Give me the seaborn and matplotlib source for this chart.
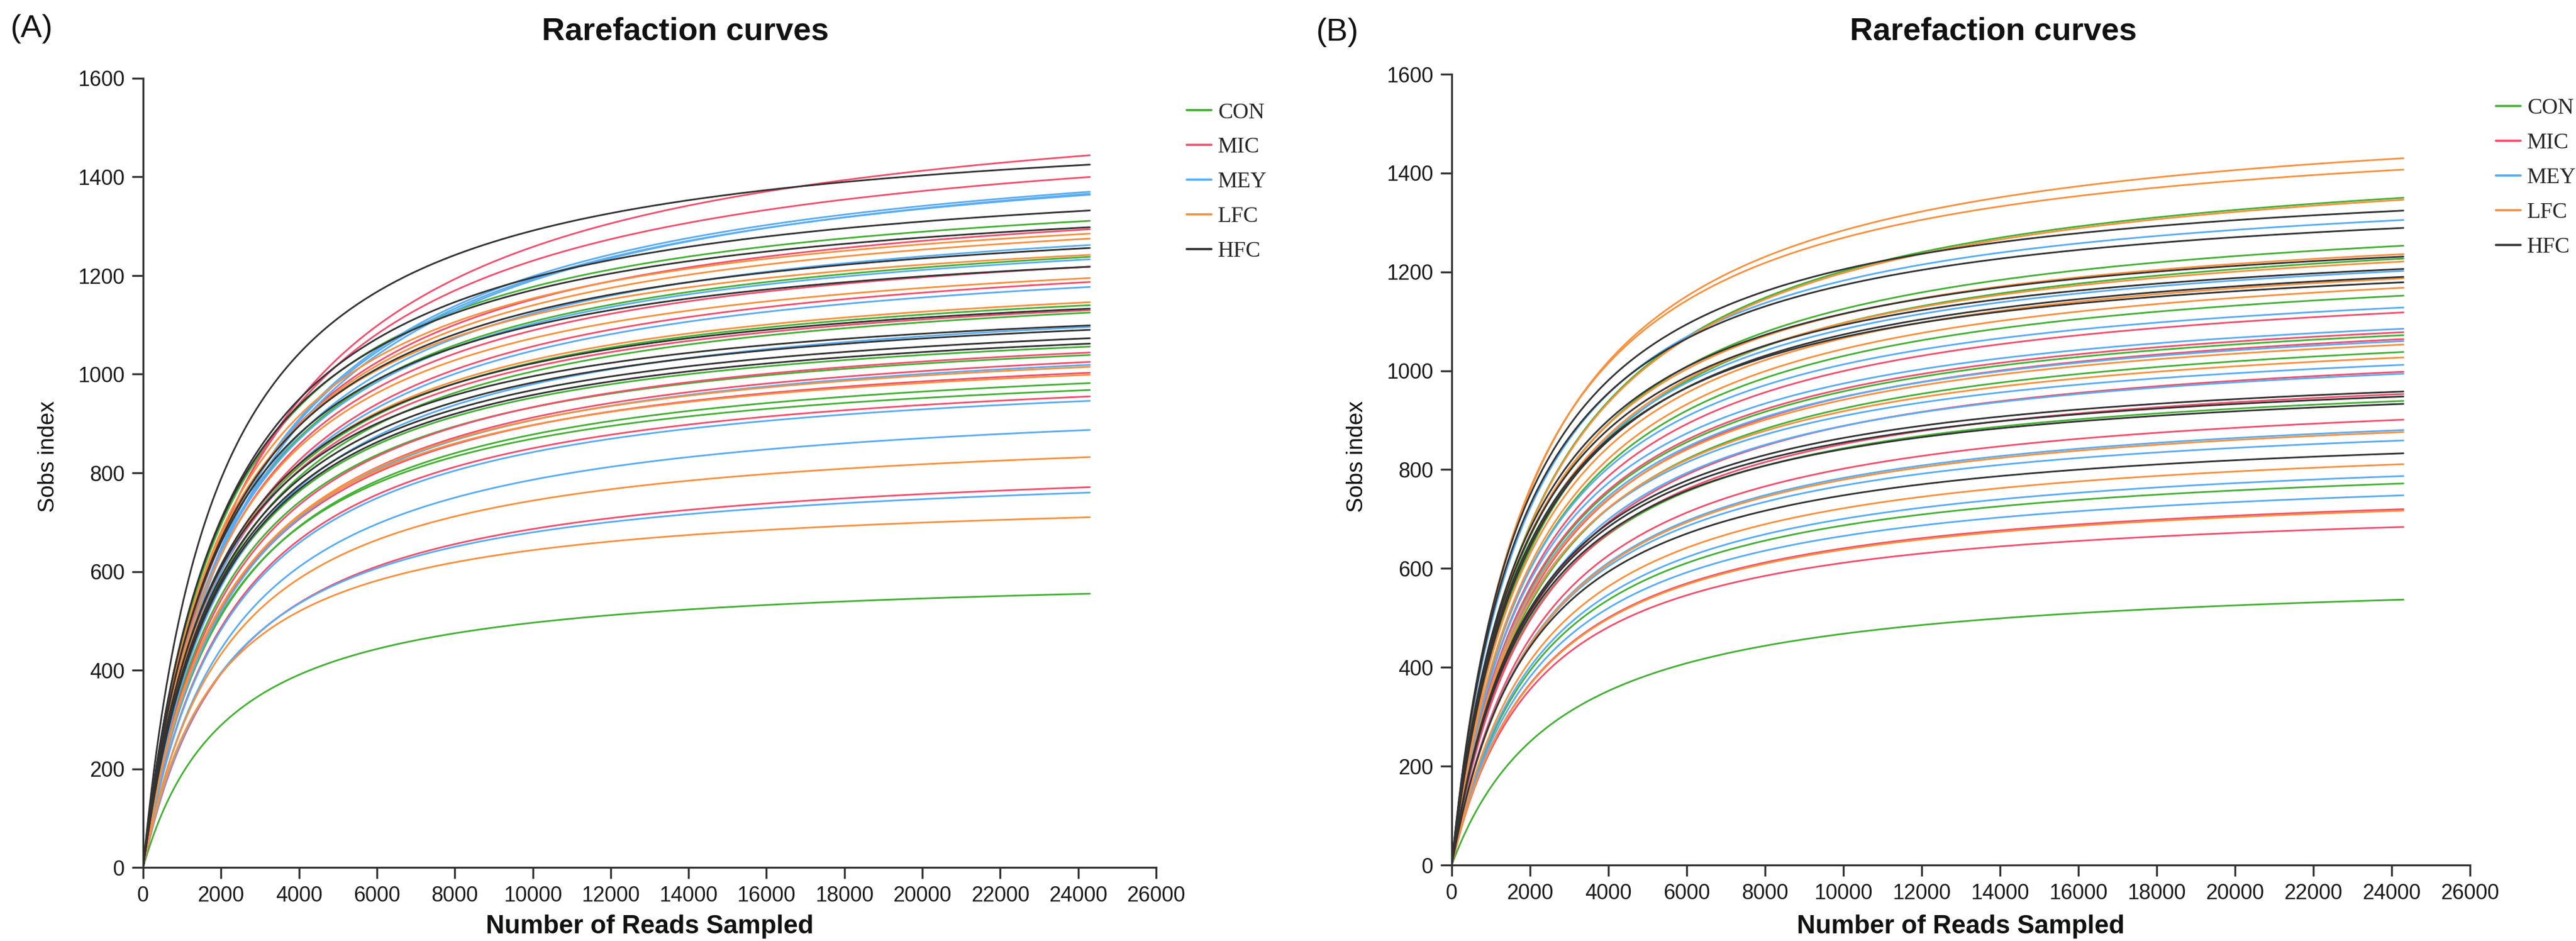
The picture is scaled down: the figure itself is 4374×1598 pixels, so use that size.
import numpy as np
import pandas as pd
import matplotlib
matplotlib.use("Agg")
import matplotlib.pyplot as plt
import seaborn as sns

# ---------------- data ----------------
group_order = ["CON", "MIC", "MEY", "LFC", "HFC"]
palette = {"CON": "#45b035", "MIC": "#f0506e", "MEY": "#5aacf2",
           "LFC": "#f7913f", "HFC": "#333333"}

max_depth = 24300  # reads at which every curve ends

# Panel A: observed Sobs at full depth, and reads needed to reach half of the
# curve's asymptote (read off the curvature of each line)
conA_end = [1311, 1238, 1140, 1125, 1056, 1039, 982, 968, 555]
conA_half = [2100, 2200, 2100, 2200, 2000, 2100, 2200, 2100, 2200]
micA_end = [1444, 1400, 1294, 1218, 1187, 1130, 1044, 1025, 1003, 955, 771]
micA_half = [2800, 2600, 2300, 2200, 2300, 2100, 2200, 2300, 2200, 2300, 2300]
meyA_end = [1370, 1366, 1364, 1262, 1233, 1177, 1096, 1019, 946, 887, 760]
meyA_half = [2700, 2800, 2700, 2300, 2200, 2300, 2200, 2300, 2300, 2400, 2200]
lfcA_end = [1285, 1275, 1242, 1195, 1146, 1015, 999, 832, 710]
lfcA_half = [2100, 2200, 2000, 2100, 2100, 2200, 2100, 2200, 1900]
hfcA_end = [1425, 1332, 1298, 1256, 1218, 1133, 1099, 1090, 1073, 1062]
hfcA_half = [1900, 2100, 2000, 2100, 2000, 2000, 1900, 2000, 2000, 2000]

# Panel B
conB_end = [1350, 1253, 1227, 1152, 1072, 1038, 939, 772, 537]
conB_half = [2300, 2100, 2200, 2200, 2200, 2300, 2100, 2300, 2800]
micB_end = [1118, 1078, 1064, 998, 953, 901, 720, 684]
micB_half = [2200, 2200, 2300, 2300, 2200, 2300, 2300, 2200]
meyB_end = [1305, 1202, 1128, 1085, 1060, 1012, 994, 880, 859, 787, 748]
meyB_half = [1900, 2000, 2100, 2100, 2200, 2100, 2200, 2300, 2200, 2300, 2300]
lfcB_end = [1430, 1407, 1346, 1236, 1221, 1187, 1168, 1053, 1027, 876, 811, 717]
lfcB_half = [2100, 2000, 2300, 2000, 2100, 2100, 2200, 2200, 2200, 2300, 2300, 2300]
hfcB_end = [1324, 1289, 1231, 1206, 1190, 1179, 958, 948, 933, 833]
hfcB_half = [1800, 1800, 1900, 1900, 2000, 1900, 2000, 2000, 2000, 2100]

x_ticks = list(range(0, 26001, 2000))
y_ticks = list(range(0, 1601, 200))

panels = {
    "A": {"CON": (conA_end, conA_half), "MIC": (micA_end, micA_half),
          "MEY": (meyA_end, meyA_half), "LFC": (lfcA_end, lfcA_half),
          "HFC": (hfcA_end, hfcA_half)},
    "B": {"CON": (conB_end, conB_half), "MIC": (micB_end, micB_half),
          "MEY": (meyB_end, meyB_half), "LFC": (lfcB_end, lfcB_half),
          "HFC": (hfcB_end, hfcB_half)},
}

depth = np.unique(np.concatenate([np.linspace(0, 2000, 201),
                                  np.linspace(2000, max_depth, 224)]))


def build_df(spec):
    rows = []
    for g in group_order:
        ends, halves = spec[g]
        for i, (s_end, k) in enumerate(zip(ends, halves)):
            sobs = s_end * depth * (k + max_depth) / (max_depth * (k + depth))
            rows.append(pd.DataFrame({"depth": depth, "sobs": sobs,
                                      "group": g, "sample": f"{g}{i+1}"}))
    return pd.concat(rows, ignore_index=True)


# ---------------- figure ----------------
sns.set_style("ticks")
plt.rcParams["font.family"] = ["Liberation Sans", "DejaVu Sans"]

W, H = 4374, 1598
fig = plt.figure(figsize=(W / 300, H / 300), dpi=300)

layout = {
    "A": dict(left=243, right=1963, top=133, bottom=1473, tag_x=18, tag_y=63,
              title_x=920, ylab_x=82, leg=(1.0302, 0.9694)),
    "B": dict(left=2465, right=4194, top=126, bottom=1469, tag_x=2235, tag_y=69,
              title_x=3141, ylab_x=2304, leg=(1.0255, 0.9695)),
}

for key in ["A", "B"]:
    L = layout[key]
    ax = fig.add_axes([L["left"] / W, 1 - L["bottom"] / H,
                       (L["right"] - L["left"]) / W, (L["bottom"] - L["top"]) / H])
    df = build_df(panels[key])
    sns.lineplot(data=df, x="depth", y="sobs", hue="group", units="sample",
                 estimator=None, hue_order=group_order, palette=palette,
                 linewidth=0.7, ax=ax, legend=True)
    ax.set_xlim(0, 26000)
    ax.set_ylim(0, 1600)
    ax.set_xticks(x_ticks)
    ax.set_yticks(y_ticks)
    ax.set_xlabel("")
    ax.set_ylabel("")
    for s in ["top", "right"]:
        ax.spines[s].set_visible(False)
    for s in ["left", "bottom"]:
        ax.spines[s].set_color("#333333")
        ax.spines[s].set_linewidth(0.8)
    ax.tick_params(axis="both", direction="out", length=4.5, width=0.8,
                   color="#333333", labelsize=8.6, labelcolor="#1a1a1a", pad=3)

    handles, labels = ax.get_legend_handles_labels()
    leg = ax.legend(handles, labels, loc="upper left", bbox_to_anchor=L["leg"],
                    frameon=False, borderpad=0, borderaxespad=0,
                    handlelength=1.12, handletextpad=0.3, labelspacing=0.65,
                    prop={"family": "Liberation Serif", "size": 9})
    for lh in leg.get_lines():
        lh.set_linewidth(0.9)

    cx = (L["left"] + L["right"]) / 2 / W
    fig.text(L["title_x"] / W, 1 - 68 / H, "Rarefaction curves", ha="left",
             va="baseline", fontsize=13, fontweight="bold", color="#111111")
    fig.text(cx, 13 / H, "Number of Reads Sampled", ha="center", va="baseline",
             fontsize=10.5, fontweight="bold", color="#111111")
    fig.text(L["ylab_x"] / W, 1 - 775 / H, "Sobs index", ha="center", va="center",
             rotation=90, fontsize=9.2, color="#111111")
    fig.text(L["tag_x"] / W, 1 - L["tag_y"] / H, f"({key})", ha="left",
             va="baseline", fontsize=13, color="#111111")

fig.savefig("out.png", dpi=300)
